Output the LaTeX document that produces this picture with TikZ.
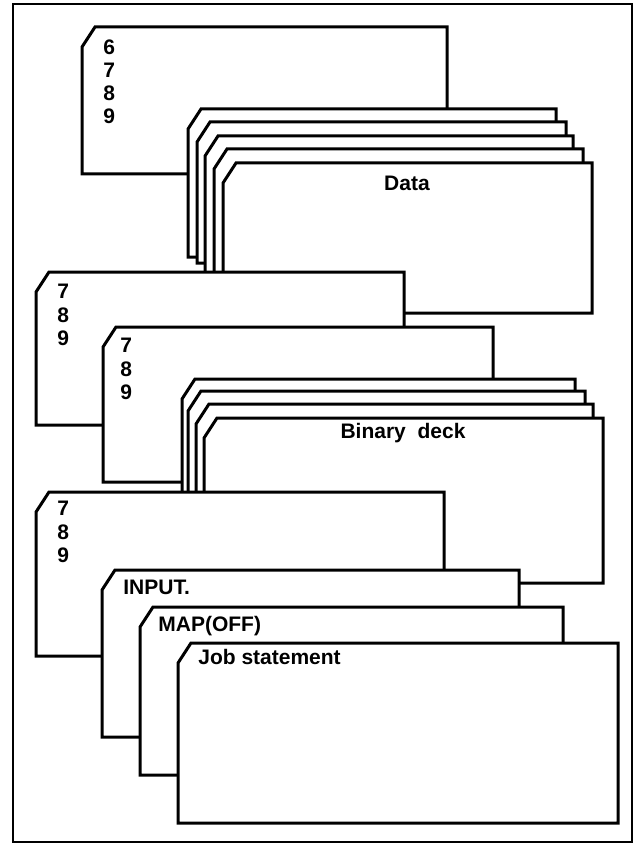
\documentclass[tikz,border=0pt]{standalone}
\usepackage{fontspec}
\setmainfont{Liberation Sans}
\tikzset{
	pics/card/.style n args={2}{
		code = {
			\filldraw[fill=white, line width=1.5pt, line join=miter] (0,20) -- (13,0) -- (#1,0) -- (#1,#2) -- (0,#2) -- cycle;
		}
	},
	punch/.style = {font=\bfseries\fontsize{10.5}{11.65}\selectfont, align=left, inner sep=0pt, anchor=north west},
	cardtext/.style = {font=\bfseries\fontsize{10.5}{12}\selectfont, inner sep=0pt}
}

\begin{document}
\begin{tikzpicture}[x=0.5pt, y=-0.5pt]
	\useasboundingbox (0,0) rectangle (635,845);
	\draw[line width=1pt] (13,4) rectangle (632,842);

	% end-of-file card
	\pic at (82,27) {card={365}{147}};
	\node[punch] (eof) at (103,39) {6\\7\\8\\9};

	% data deck, back to front
	\pic at (188,109) {card={368}{148}};
	\pic at (197,122) {card={369}{141}};
	\pic at (205,136) {card={368}{149}};
	\pic at (214,149) {card={369}{136}};
	\pic at (223,163) {card={369}{150}};
	\node[cardtext] (data) at (407,183) {Data};

	\pic at (36,272) {card={368}{153}};
	\node[punch] (eorA) at (57,284) {7\\8\\9};
	\pic at (103,327) {card={390}{155}};
	\node[punch] (eorB) at (120,338) {7\\8\\9};

	% binary deck
	\pic at (182,379) {card={393}{160}};
	\pic at (188,391) {card={397}{150}};
	\pic at (196,404) {card={397}{140}};
	\pic at (204,418) {card={399}{165}};
	\node[cardtext] (binary) at (403,433) {Binary\ \ deck};

	\pic at (36,492) {card={408}{164}};
	\node[punch] (eorC) at (57,501) {7\\8\\9};

	% control cards
	\pic at (102,570) {card={417}{167}};
	\node[cardtext, anchor=west] (input) at (123,587) {INPUT.};
	\pic at (140,607) {card={423}{168}};
	\node[cardtext, anchor=west] (map) at (158,626) {MAP(OFF)};
	\pic at (178,643) {card={440}{180}};
	\node[cardtext, anchor=west] (job) at (198,657) {Job statement};
\end{tikzpicture}
\end{document}
